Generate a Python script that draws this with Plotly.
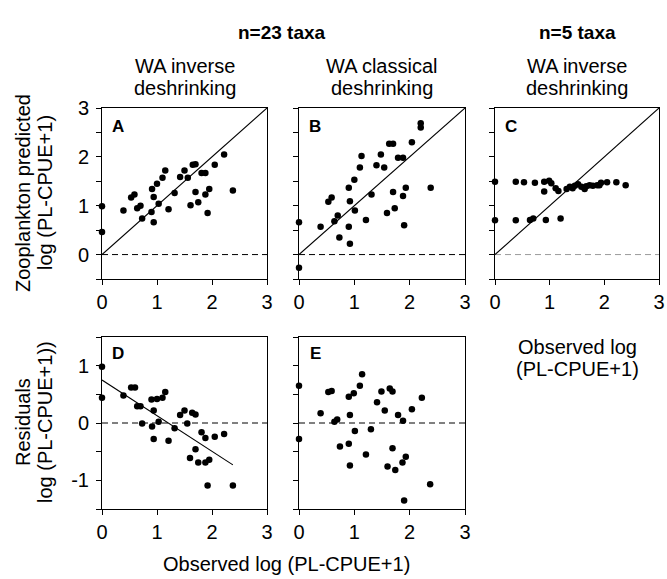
import plotly.graph_objects as go

W, H = 667, 579

# ---------------- data ----------------
# Panel A: WA inverse deshrinking, n=23 taxa  (observed, predicted)
a_obs = [0, 0, 0.39, 0.53, 0.59, 0.64, 0.70, 0.73, 0.90, 0.91, 0.94, 0.94, 1.00, 1.03,
         1.10, 1.15, 1.21, 1.32, 1.42, 1.50, 1.56, 1.61, 1.65, 1.70, 1.70, 1.75, 1.81,
         1.88, 1.88, 1.92, 1.95, 2.05, 2.22, 2.38]
a_pred = [0.99, 0.46, 0.90, 1.17, 1.23, 0.95, 1.00, 0.74, 0.87, 1.34, 1.18, 0.66, 1.45, 1.04,
          1.57, 1.72, 0.93, 1.26, 1.59, 1.72, 1.57, 1.01, 1.84, 1.85, 1.28, 1.07, 1.67,
          1.67, 1.23, 0.85, 1.34, 1.84, 2.05, 1.31]

# Panel B: WA classical deshrinking, n=23 taxa
b_obs = [0, 0, 0.39, 0.53, 0.59, 0.64, 0.70, 0.73, 0.90, 0.90, 0.92, 0.92, 1.00, 1.01,
         1.10, 1.13, 1.21, 1.31, 1.40, 1.48, 1.54, 1.59, 1.63, 1.70, 1.70, 1.73, 1.79,
         1.88, 1.88, 1.90, 1.93, 2.04, 2.20, 2.20, 2.38]
b_pred = [0.66, -0.27, 0.57, 1.08, 1.17, 0.68, 0.80, 0.35, 0.57, 1.37, 1.09, 0.22, 1.53, 0.90,
          1.78, 2.02, 0.71, 1.23, 1.83, 2.05, 1.78, 0.85, 2.27, 2.27, 1.28, 0.95, 1.98,
          1.98, 1.20, 0.60, 1.37, 2.30, 2.69, 2.60, 1.37]

# Panel C: WA inverse deshrinking, n=5 taxa
c_obs = [0, 0, 0.38, 0.38, 0.53, 0.73, 0.90, 0.99, 0.90, 1.03, 1.11, 1.16, 0.64, 0.70,
         0.93, 1.20, 1.31, 1.37, 1.42, 1.46, 1.52, 1.58, 1.64, 1.67, 1.73, 1.79, 1.87,
         1.91, 1.94, 2.05, 2.22, 2.39]
c_pred = [1.49, 0.70, 1.49, 0.70, 1.48, 1.47, 1.49, 1.51, 1.29, 1.46, 1.36, 1.30, 0.71, 0.74,
          0.71, 0.74, 1.34, 1.39, 1.36, 1.41, 1.44, 1.39, 1.34, 1.40, 1.42, 1.41, 1.42,
          1.42, 1.47, 1.48, 1.48, 1.42]

# Panel D: residuals of A
d_obs = [0, 0, 0.39, 0.53, 0.60, 0.64, 0.70, 0.73, 0.90, 0.91, 0.94, 0.94, 1.00, 1.03,
         1.10, 1.15, 1.21, 1.32, 1.42, 1.50, 1.55, 1.60, 1.64, 1.70, 1.70, 1.75, 1.81,
         1.88, 1.88, 1.92, 1.95, 2.05, 2.22, 2.38]
d_res = [0.98, 0.44, 0.48, 0.62, 0.62, 0.29, 0.29, -0.01, 0.41, -0.06, 0.22, -0.28, 0.42, 0.02,
         0.44, 0.54, -0.31, -0.09, 0.14, 0.22, -0.01, -0.61, 0.18, 0.15, -0.46, -0.69, -0.16,
         -0.26, -0.69, -1.09, -0.64, -0.24, -0.19, -1.09]
d_fit_x = [0, 2.38]
d_fit_y = [0.75, -0.73]

# Panel E: residuals of B
e_obs = [0, 0, 0.39, 0.53, 0.59, 0.64, 0.69, 0.74, 0.90, 0.90, 0.92, 0.92, 0.99, 1.01,
         1.10, 1.14, 1.21, 1.30, 1.41, 1.49, 1.55, 1.60, 1.64, 1.69, 1.69, 1.74, 1.79,
         1.88, 1.87, 1.90, 1.93, 2.04, 2.22, 2.37]
e_res = [0.65, -0.28, 0.17, 0.54, 0.56, 0.02, 0.06, -0.41, -0.36, 0.46, 0.14, -0.74, 0.52, -0.14,
         0.65, 0.85, -0.55, -0.11, 0.36, 0.55, 0.22, -0.76, 0.60, 0.55, -0.44, -0.82, 0.14,
         0.04, -0.69, -1.35, -0.59, 0.24, 0.44, -1.07]

one_to_one = [0, 3]
x_ticks = [0, 1, 2, 3]
top_y_ticks = [-0.5, 0, 0.5, 1, 1.5, 2, 2.5, 3]
bot_y_ticks = [-1.5, -1, -0.5, 0, 0.5, 1, 1.5]

panel_letters = ["A", "B", "C", "D", "E"]
group_titles = ["n=23 taxa", "n=5 taxa"]
method_titles = [["WA inverse", "deshrinking"], ["WA classical", "deshrinking"],
                 ["WA inverse", "deshrinking"]]
ylab_top = ["Zooplankton predicted", "log (PL-CPUE+1)"]
ylab_bot = ["Residuals", "log (PL-CPUE+1))"]
xlab_side = ["Observed log", "(PL-CPUE+1)"]
xlab_bottom = "Observed log (PL-CPUE+1)"

# ---------------- layout helpers ----------------
FONT = "Liberation Sans, Arial, Helvetica, sans-serif"
FS = 20

def px_x(p):
    return p / W

def px_y(p):
    return 1 - p / H

cols = [(102, 267), (299, 465), (495, 659)]
rows = [(108, 279), (337, 509)]

fig = go.Figure()

def lab(v):
    return str(int(v)) if float(v).is_integer() else ""

def add_axes(idx, col, row, yr, yt, show_ylabels):
    x0, x1 = cols[col]
    ytp, ybt = rows[row]
    common = dict(showline=True, linecolor="black", linewidth=1, mirror=True,
                  ticks="outside", ticklen=5, tickcolor="black", tickwidth=1,
                  showgrid=False, zeroline=False, ticklabeloverflow="allow",
                  tickfont=dict(family=FONT, size=FS, color="black"))
    sfx = "" if idx == 1 else str(idx)
    fig.layout["xaxis" + sfx] = dict(domain=[px_x(x0), px_x(x1)], range=[0, 3],
                                     tickvals=x_ticks, ticktext=[str(v) for v in x_ticks],
                                     anchor="y" + sfx, **common)
    fig.layout["yaxis" + sfx] = dict(domain=[px_y(ybt), px_y(ytp)], range=yr,
                                     tickvals=yt,
                                     ticktext=[lab(v) if show_ylabels else "" for v in yt],
                                     ticklabelstandoff=3,
                                     anchor="x" + sfx, **common)

add_axes(1, 0, 0, [-0.5, 3], top_y_ticks, True)
add_axes(2, 1, 0, [-0.5, 3], top_y_ticks, False)
add_axes(3, 2, 0, [-0.5, 3], top_y_ticks, False)
add_axes(4, 0, 1, [-1.5, 1.5], bot_y_ticks, True)
add_axes(5, 1, 1, [-1.5, 1.5], bot_y_ticks, False)

def ax(i):
    return ("x", "y") if i == 1 else ("x%d" % i, "y%d" % i)

def zero_line(i, color):
    xa, ya = ax(i)
    fig.add_trace(go.Scatter(x=one_to_one, y=[0, 0], mode="lines", xaxis=xa, yaxis=ya,
                             line=dict(color=color, width=1, dash="6px,4px"),
                             hoverinfo="skip", showlegend=False))

def diag(i):
    xa, ya = ax(i)
    fig.add_trace(go.Scatter(x=one_to_one, y=one_to_one, mode="lines", xaxis=xa, yaxis=ya,
                             line=dict(color="black", width=1.1),
                             hoverinfo="skip", showlegend=False, cliponaxis=False))

def pts(i, xs, ys):
    xa, ya = ax(i)
    fig.add_trace(go.Scatter(x=xs, y=ys, mode="markers", xaxis=xa, yaxis=ya,
                             marker=dict(color="black", size=6.5),
                             showlegend=False, cliponaxis=False))

zero_line(1, "black"); diag(1); pts(1, a_obs, a_pred)
zero_line(2, "black"); diag(2); pts(2, b_obs, b_pred)
zero_line(3, "#9a9a9a"); diag(3); pts(3, c_obs, c_pred)
zero_line(4, "black")
xa, ya = ax(4)
fig.add_trace(go.Scatter(x=d_fit_x, y=d_fit_y, mode="lines", xaxis=xa, yaxis=ya,
                         line=dict(color="black", width=1.1), hoverinfo="skip", showlegend=False))
pts(4, d_obs, d_res)
zero_line(5, "black"); pts(5, e_obs, e_res)

ann = []
def text(t, x, y, size=FS, bold=False, angle=0):
    if bold:
        t = "<b>" + t + "</b>"
    ann.append(dict(text=t, x=px_x(x), y=px_y(y), xref="paper", yref="paper",
                    xanchor="center", yanchor="middle", showarrow=False, textangle=angle,
                    borderpad=0,
                    font=dict(family=FONT, size=size, color="black")))

# panel letters
letter_pos = [(118, 126), (315, 126), (511, 126), (118, 353), (315, 353)]
for L, (x, y) in zip(panel_letters, letter_pos):
    text(L, x, y, size=17, bold=True)

text(group_titles[0], 282, 32, size=19, bold=True)
text(group_titles[1], 577, 32, size=19, bold=True)
for (l1, l2), cx in zip(method_titles, [184.5, 382, 577]):
    text(l1, cx, 66)
    text(l2, cx, 88)

text(ylab_top[0], 23, 193, angle=-90)
text(ylab_top[1], 45, 193, angle=-90)
text(ylab_bot[0], 23, 422, angle=-90)
text(ylab_bot[1], 45, 422, angle=-90)
text(xlab_side[0], 577, 347)
text(xlab_side[1], 577, 369)
text(xlab_bottom, 286, 564)

fig.update_layout(width=W, height=H, margin=dict(l=0, r=0, t=0, b=0, autoexpand=False),
                  paper_bgcolor="white", plot_bgcolor="white", annotations=ann,
                  font=dict(family=FONT, size=FS, color="black"))

# remove the browser's default 8px page margin so the figure fills the window exactly
fig.write_html("out.html", config={"displayModeBar": False},
               post_script="document.body.style.margin='0px';document.body.style.padding='0px';"
                           "document.body.style.overflow='hidden';")
